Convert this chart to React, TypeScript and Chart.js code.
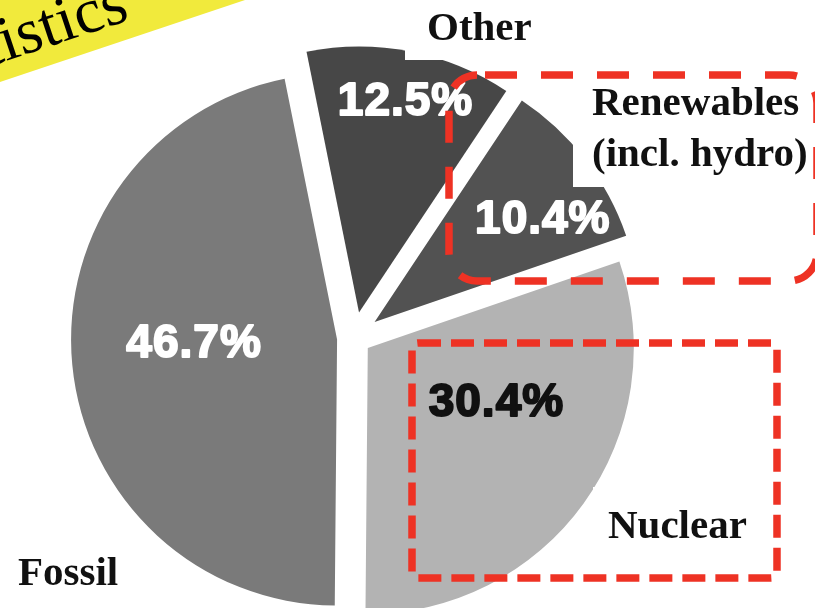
import React, { useEffect, useRef } from "react";
import { Chart, registerables } from "chart.js";

Chart.register(...registerables);

// Share of electricity generation by source (%)
const sources = ["Other", "Renewables (incl. hydro)", "Nuclear", "Fossil"];
const shares = [12.5, 10.4, 30.4, 46.7];
const sourceTitleLines = [["Other"], ["Renewables", "(incl. hydro)"], ["Nuclear"], ["Fossil"]];

const sliceColors = ["#474747", "#525252", "#b3b3b3", "#7a7a7a"];
const valueTextColors = ["#ffffff", "#ffffff", "#111111", "#ffffff"];

const W = 815;
const H = 608;
const CX = 354;
const CY = 338;
const RADIUS = 266;

// how far each slice is pulled out from the centre (px)
const explode = [26, 26, 17, 17];
// percentage label placement inside a slice: [fraction of sweep, fraction of radius]
const valueAnchor = [
  [0.53, 0.81],
  [0.67, 0.74],
  [0.385, 0.526],
  [0.52, 0.538],
];
// source title placement: [left, first baseline]
const titlePos = [
  [427, 40],
  [592, 115],
  [608, 538],
  [18, 585],
];
// white backing behind titles: [x, y, w, h]
const titleBacking = [
  [405, 0, 160, 60],
  [573, 80, 242, 107],
  [593, 487, 175, 75],
];

const explodedSlices = {
  id: "explodedSlices",
  beforeDatasetDraw(chart: any, args: any) {
    const meta = chart.getDatasetMeta(args.index);
    const ctx = chart.ctx;
    meta.data.forEach((arc: any, i: number) => {
      const mid = (arc.startAngle + arc.endAngle) / 2;
      const d = explode[i] ?? 0;
      ctx.save();
      ctx.translate(Math.cos(mid) * d, Math.sin(mid) * d);
      arc.draw(ctx);
      ctx.restore();
    });
    return false;
  },
};

const annotations = {
  id: "annotations",
  afterDraw(chart: any) {
    const ctx = chart.ctx as CanvasRenderingContext2D;
    const meta = chart.getDatasetMeta(0);
    const values = chart.data.datasets[0].data as number[];

    ctx.save();
    ctx.fillStyle = "#ffffff";
    titleBacking.forEach(([x, y, w, h]) => ctx.fillRect(x, y, w, h));

    // source titles
    ctx.fillStyle = "#111111";
    ctx.font = 'bold 41px "Liberation Serif"';
    ctx.textAlign = "left";
    ctx.textBaseline = "alphabetic";
    sourceTitleLines.forEach((lines, i) => {
      const [x, y] = titlePos[i];
      lines.forEach((line, j) => ctx.fillText(line, x, y + j * 51));
    });

    // percentage labels (heavy sans)
    ctx.font = 'bold 46px "Liberation Sans"';
    (ctx as any).letterSpacing = "1px";
    ctx.textAlign = "center";
    ctx.textBaseline = "middle";
    ctx.lineJoin = "round";
    ctx.lineWidth = 2;
    meta.data.forEach((arc: any, i: number) => {
      const { x, y, startAngle, endAngle, outerRadius } = arc;
      const mid = (startAngle + endAngle) / 2;
      const d = explode[i] ?? 0;
      const [f, k] = valueAnchor[i];
      const a = startAngle + f * (endAngle - startAngle);
      const px = x + Math.cos(mid) * d + Math.cos(a) * k * outerRadius;
      const py = y + Math.sin(mid) * d + Math.sin(a) * k * outerRadius;
      const text = `${values[i].toFixed(1)}%`;
      ctx.fillStyle = valueTextColors[i];
      ctx.strokeStyle = valueTextColors[i];
      ctx.fillText(text, px, py);
      ctx.strokeText(text, px, py);
    });
    (ctx as any).letterSpacing = "0px";

    // dashed highlight frames
    ctx.strokeStyle = "#ee3224";
    ctx.lineWidth = 7.5;
    ctx.lineJoin = "miter";
    ctx.setLineDash([32, 24]);
    ctx.lineDashOffset = 48;
    ctx.beginPath();
    ctx.roundRect(449, 75, 368, 206, 28);
    ctx.stroke();

    ctx.setLineDash([23, 10]);
    ctx.lineDashOffset = 0;
    ctx.beginPath();
    ctx.roundRect(412, 343, 365, 235, 6);
    ctx.stroke();
    ctx.setLineDash([]);

    // heading ribbon
    ctx.translate(6, 61);
    ctx.rotate((-18.5 * Math.PI) / 180);
    ctx.fillStyle = "#f1ea3c";
    ctx.fillRect(-300, -220, 900, 238);
    ctx.fillStyle = "#000000";
    ctx.font = '64px "Liberation Serif"';
    ctx.textAlign = "left";
    ctx.textBaseline = "alphabetic";
    const lead = ctx.measureText("Stat").width;
    ctx.fillText("Statistics", -lead, 0);
    ctx.restore();
  },
};

export default function App() {
  const canvasRef = useRef<HTMLCanvasElement | null>(null);

  useEffect(() => {
    const canvas = canvasRef.current;
    if (!canvas) return;
    const before = shares.slice(0, 3).reduce((s, v) => s + v, 0);
    const total = shares.reduce((s, v) => s + v, 0);
    const chart = new Chart(canvas, {
      type: "pie",
      data: {
        labels: sources,
        datasets: [
          {
            data: shares,
            backgroundColor: sliceColors,
            borderWidth: 0,
            radius: RADIUS,
            rotation: 180.5 - (360 * before) / total,
            clip: false,
          } as any,
        ],
      },
      options: {
        animation: false,
        responsive: false,
        devicePixelRatio: 1,
        events: [],
        layout: {
          padding: { left: 0, right: W - 2 * CX, top: 2 * CY - H, bottom: 0 },
        },
        plugins: {
          legend: { display: false },
          tooltip: { enabled: false },
        },
      },
      plugins: [explodedSlices, annotations],
    });
    return () => chart.destroy();
  }, []);

  return (
    <div style={{ position: "absolute", left: 0, top: 0, width: W, height: H, background: "#ffffff", overflow: "hidden" }}>
      <canvas ref={canvasRef} width={W} height={H} style={{ display: "block", width: W, height: H }} />
    </div>
  );
}
